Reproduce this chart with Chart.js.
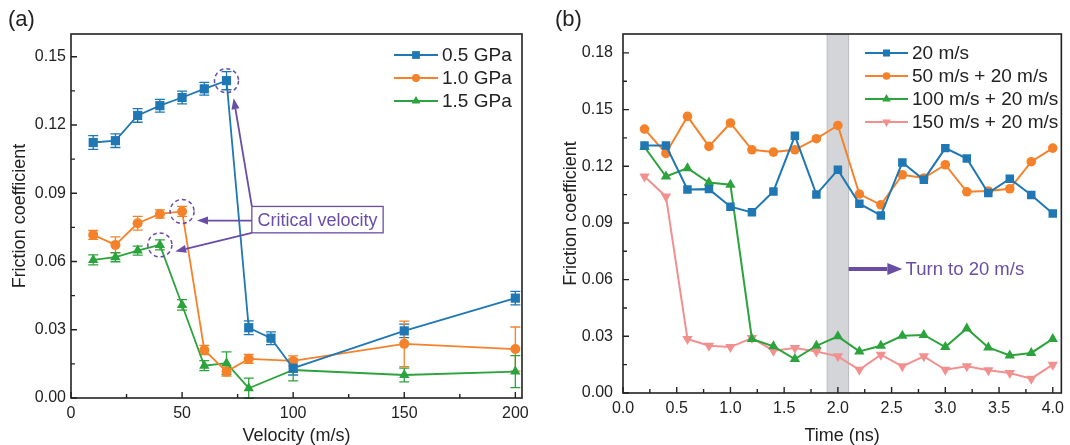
<!DOCTYPE html>
<html>
<head>
<meta charset="utf-8">
<script src="https://cdn.jsdelivr.net/npm/chart.js@4.4.1/dist/chart.umd.min.js"></script>
<style>
  html, body { margin: 0; padding: 0; background: #fff; }
  #wrap { position: relative; width: 1070px; height: 445px; }
  .panel { position: absolute; top: 0; width: 535px; height: 445px; }
</style>
</head>
<body>
<div id="wrap">
  <div class="panel" style="left:0"><canvas id="chartA" width="535" height="445"></canvas></div>
  <div class="panel" style="left:535px"><canvas id="chartB" width="535" height="445"></canvas></div>
</div>
<script>
// ---- panel (a): friction vs velocity, with error bars ----
const velocity05 = [10, 20, 30, 40, 50, 60, 70, 80, 90, 100, 150, 200];
const velocity = [10, 20, 30, 40, 50, 60, 70, 80, 100, 150, 200];
const cof05 = [0.1123, 0.1131, 0.1242, 0.1285, 0.1321, 0.1359, 0.1395, 0.0309, 0.0263, 0.0131, 0.0295, 0.0439];
const err05 = [0.003, 0.003, 0.003, 0.0028, 0.0028, 0.0028, 0.004, 0.003, 0.0028, 0.003, 0.003, 0.003];
const cof10 = [0.0717, 0.0673, 0.0768, 0.0809, 0.0820, 0.0211, 0.0116, 0.0172, 0.0163, 0.0238, 0.0215];
const err10 = [0.002, 0.0035, 0.003, 0.0018, 0.0022, 0.002, 0.002, 0.002, 0.0022, 0.010, 0.0097];
const cof15 = [0.0607, 0.0619, 0.0648, 0.0673, 0.0409, 0.0142, 0.0153, 0.0043, 0.0123, 0.0101, 0.0116];
const err15 = [0.0022, 0.002, 0.002, 0.0022, 0.0023, 0.0022, 0.005, 0.0044, 0.0048, 0.003, 0.007];
const xTicksA = [0, 50, 100, 150, 200];
const xMinorA = [25, 75, 125, 175];
const yTicksA = [0, 0.03, 0.06, 0.09, 0.12, 0.15];
const yMinorA = [0.015, 0.045, 0.075, 0.105, 0.135];

// ---- panel (b): friction vs time ----
const timeNs = [0.2, 0.4, 0.6, 0.8, 1.0, 1.2, 1.4, 1.6, 1.8, 2.0, 2.2, 2.4, 2.6, 2.8, 3.0, 3.2, 3.4, 3.6, 3.8, 4.0];
const run20 = [0.131, 0.131, 0.1077, 0.1079, 0.0986, 0.0956, 0.1067, 0.1361, 0.1051, 0.1181, 0.1002, 0.094, 0.122, 0.1129, 0.1296, 0.1241, 0.1058, 0.1134, 0.1048, 0.095];
const run50 = [0.1397, 0.1268, 0.1464, 0.1305, 0.1429, 0.1287, 0.1275, 0.1287, 0.1346, 0.1416, 0.1053, 0.0996, 0.1155, 0.1138, 0.1208, 0.1065, 0.1069, 0.1081, 0.1224, 0.1296];
const run100 = [0.1302, 0.1146, 0.119, 0.1114, 0.1102, 0.0286, 0.0247, 0.018, 0.025, 0.030, 0.022, 0.025, 0.0303, 0.0307, 0.0243, 0.0342, 0.0241, 0.0199, 0.0212, 0.0286];
const run150 = [0.1146, 0.104, 0.0286, 0.025, 0.0243, 0.0291, 0.0224, 0.0238, 0.022, 0.0194, 0.0123, 0.0203, 0.0141, 0.0194, 0.0123, 0.0141, 0.012, 0.0106, 0.0076, 0.015];
const xTicksB = [0, 0.5, 1.0, 1.5, 2.0, 2.5, 3.0, 3.5, 4.0];
const xMinorB = [0.25, 0.75, 1.25, 1.75, 2.25, 2.75, 3.25, 3.75];
const yTicksB = [0, 0.03, 0.06, 0.09, 0.12, 0.15, 0.18];
const yMinorB = [0.015, 0.045, 0.075, 0.105, 0.135, 0.165];
const switchBand = [1.9, 2.1];

const FONT = 'Arial, "Liberation Sans", sans-serif';
const INK = '#222';
const PURPLE = '#6a4ea6';
const BLUE = '#1f77b4';
const ORANGE = '#f5822a';
const GREEN = '#2ca33c';
const PINK = '#f29090';

const pts = (xs, ys) => xs.map((x, i) => ({ x, y: ys[i] }));

function series(label, xs, ys, color, style, radius, extra) {
  return Object.assign({
    label,
    data: pts(xs, ys),
    borderColor: color,
    backgroundColor: color,
    pointBackgroundColor: color,
    pointBorderColor: color,
    pointBorderWidth: 0,
    pointStyle: style,
    pointRadius: radius,
    borderWidth: 1.8,
    tension: 0,
  }, extra || {});
}

function arrow(ctx, x1, y1, x2, y2, lw, headLen, headW) {
  const ang = Math.atan2(y2 - y1, x2 - x1);
  const bx = x2 - Math.cos(ang) * headLen, by = y2 - Math.sin(ang) * headLen;
  ctx.lineWidth = lw;
  ctx.beginPath();
  ctx.moveTo(x1, y1);
  ctx.lineTo(bx, by);
  ctx.stroke();
  ctx.beginPath();
  ctx.moveTo(x2, y2);
  ctx.lineTo(bx + Math.sin(ang) * headW / 2, by - Math.cos(ang) * headW / 2);
  ctx.lineTo(bx - Math.sin(ang) * headW / 2, by + Math.cos(ang) * headW / 2);
  ctx.closePath();
  ctx.fill();
}

// error bars from dataset.errors
const errorBars = {
  id: "errorBars",
  beforeDatasetsDraw(chart) {
    const { ctx, scales: { x, y } } = chart;
    chart.data.datasets.forEach((ds) => {
      if (!ds.errors) return;
      ctx.save();
      ctx.strokeStyle = ds.borderColor;
      ctx.lineWidth = 1.3;
      ctx.beginPath();
      ds.data.forEach((p, j) => {
        const e = ds.errors[j];
        const px = x.getPixelForValue(p.x);
        const top = y.getPixelForValue(p.y + e);
        const bot = y.getPixelForValue(p.y - e);
        ctx.moveTo(px, top); ctx.lineTo(px, bot);
        ctx.moveTo(px - 5, top); ctx.lineTo(px + 5, top);
        ctx.moveTo(px - 5, bot); ctx.lineTo(px + 5, bot);
      });
      ctx.stroke();
      ctx.restore();
    });
  },
};

// box frame + inward ticks (major and minor)
const frameTicks = {
  id: "frameTicks",
  afterDraw(chart, args, opts) {
    const { ctx, chartArea: a, scales: { x, y } } = chart;
    ctx.save();
    ctx.strokeStyle = INK;
    ctx.lineWidth = 1.4;
    ctx.beginPath();
    opts.majorX.forEach((v) => { const p = x.getPixelForValue(v); ctx.moveTo(p, a.bottom); ctx.lineTo(p, a.bottom - 6); });
    opts.minorX.forEach((v) => { const p = x.getPixelForValue(v); ctx.moveTo(p, a.bottom); ctx.lineTo(p, a.bottom - 4); });
    opts.majorY.forEach((v) => { const p = y.getPixelForValue(v); ctx.moveTo(a.left, p); ctx.lineTo(a.left + 6, p); });
    opts.minorY.forEach((v) => { const p = y.getPixelForValue(v); ctx.moveTo(a.left, p); ctx.lineTo(a.left + 4, p); });
    ctx.stroke();
    ctx.lineWidth = 1.6;
    ctx.strokeRect(a.left, a.top, a.right - a.left, a.bottom - a.top);
    ctx.fillStyle = INK;
    ctx.font = "22px " + FONT;
    ctx.textBaseline = "middle";
    ctx.textAlign = "left";
    ctx.fillText(opts.tag, opts.tagX, 20);
    ctx.restore();
  },
};

// legend inside the plot
const insetLegend = {
  id: "insetLegend",
  afterDraw(chart, args, opts) {
    const { ctx } = chart;
    ctx.save();
    ctx.font = opts.size + "px " + FONT;
    ctx.textBaseline = "middle";
    ctx.textAlign = "left";
    chart.data.datasets.forEach((ds, i) => {
      const ly = opts.y + i * opts.step;
      ctx.strokeStyle = ds.borderColor;
      ctx.lineWidth = ds.borderWidth;
      ctx.beginPath();
      ctx.moveTo(opts.x, ly);
      ctx.lineTo(opts.x + opts.len, ly);
      ctx.stroke();
      ctx.fillStyle = ds.pointBackgroundColor;
      Chart.helpers.drawPoint(ctx, {
        pointStyle: ds.pointStyle,
        rotation: ds.pointRotation || 0,
        radius: ds.pointRadius - 1,
        borderWidth: 0,
      }, opts.x + opts.len / 2, ly);
      ctx.fillStyle = INK;
      ctx.fillText(ds.label, opts.x + opts.len + 4, ly + 1);
    });
    ctx.restore();
  },
};

// (a) critical velocity callouts
const criticalNote = {
  id: "criticalNote",
  afterDraw(chart) {
    const { ctx, scales: { x, y } } = chart;
    const px = (v) => x.getPixelForValue(v), py = (v) => y.getPixelForValue(v);
    ctx.save();
    ctx.strokeStyle = PURPLE;
    ctx.fillStyle = PURPLE;
    // dashed circles around the last point before the drop
    ctx.setLineDash([4, 3]);
    ctx.lineWidth = 1.5;
    [[70, cof05[6]], [50, cof10[4]], [40, cof15[3]]].forEach(([vx, vy]) => {
      ctx.beginPath();
      ctx.arc(px(vx), py(vy), 12, 0, Math.PI * 2);
      ctx.stroke();
    });
    ctx.setLineDash([]);
    // label box
    const bl = px(81.4), br = px(140.5), bt = py(0.0842), bb = py(0.0726);
    ctx.lineWidth = 1.3;
    ctx.strokeRect(bl, bt, br - bl, bb - bt);
    ctx.font = "18px " + FONT;
    ctx.textAlign = "center";
    ctx.textBaseline = "middle";
    ctx.fillText("Critical velocity", (bl + br) / 2, (bt + bb) / 2 + 1);
    // arrows
    arrow(ctx, bl, py(0.078), px(56.7), py(0.078), 1.8, 11, 8);
    arrow(ctx, bl, bb, px(46.9), py(0.0644), 1.8, 11, 8);
    arrow(ctx, bl, bt, px(73.2), py(0.1318), 1.8, 11, 8);
    ctx.restore();
  },
};

// (b) grey band marking the speed switch
const switchMark = {
  id: "switchMark",
  beforeDatasetsDraw(chart) {
    const { ctx, chartArea: a, scales: { x } } = chart;
    const l = x.getPixelForValue(switchBand[0]), r = x.getPixelForValue(switchBand[1]);
    ctx.save();
    ctx.fillStyle = "#d3d5d8";
    ctx.fillRect(l, a.top, r - l, a.bottom - a.top);
    ctx.strokeStyle = "#b9bcc0";
    ctx.lineWidth = 1;
    ctx.beginPath();
    ctx.moveTo(l, a.top); ctx.lineTo(l, a.bottom);
    ctx.moveTo(r, a.top); ctx.lineTo(r, a.bottom);
    ctx.stroke();
    ctx.restore();
  },
  afterDraw(chart) {
    const { ctx, scales: { x, y } } = chart;
    const ay = y.getPixelForValue(0.0656);
    ctx.save();
    ctx.strokeStyle = PURPLE;
    ctx.fillStyle = PURPLE;
    arrow(ctx, x.getPixelForValue(2.1), ay, x.getPixelForValue(2.6), ay, 4, 15, 12);
    ctx.font = "18.5px " + FONT;
    ctx.textAlign = "left";
    ctx.textBaseline = "middle";
    ctx.fillText("Turn to 20 m/s", x.getPixelForValue(2.63), ay + 1);
    ctx.restore();
  },
};

function axis(min, max, ticks, fmt, title, pad, titlePad) {
  return {
    type: "linear",
    min, max,
    afterBuildTicks: (s) => { s.ticks = ticks.map((v) => ({ value: v })); },
    grid: { display: false, drawTicks: false },
    border: { display: false },
    ticks: {
      color: INK, padding: pad, autoSkip: false, maxRotation: 0,
      font: { family: FONT, size: 16 },
      callback: fmt,
    },
    title: {
      display: true, text: title, color: INK,
      font: { family: FONT, size: 18, lineHeight: 1 },
      padding: titlePad,
    },
  };
}

const common = (padding, xAxis, yAxis, plugins) => ({
  responsive: false,
  animation: false,
  devicePixelRatio: 1,
  layout: { padding },
  plugins: Object.assign({ legend: { display: false }, tooltip: { enabled: false } }, plugins),
  scales: { x: xAxis, y: yAxis },
});

// ---------- chart (a) ----------
const xA = axis(0, 203, xTicksA, (v) => String(v), "Velocity (m/s)", 6, { top: 0, bottom: 0 });
xA.afterFit = (s) => { s.height = 47; };
const yA = axis(0, 0.16, yTicksA, (v) => v.toFixed(2), "Friction coefficient", 5, { top: 11, bottom: 0 });
yA.afterFit = (s) => { s.width = 71; };

new Chart(document.getElementById("chartA"), {
  type: "line",
  data: {
    datasets: [
      series("0.5 GPa", velocity05, cof05, BLUE, "rect", 6.5, { errors: err05 }),
      series("1.0 GPa", velocity, cof10, ORANGE, "circle", 5, { errors: err10 }),
      series("1.5 GPa", velocity, cof15, GREEN, "triangle", 6, { errors: err15 }),
    ],
  },
  options: common({ left: 0, right: 13, top: 34, bottom: 0 }, xA, yA, {
    frameTicks: { majorX: xTicksA, minorX: xMinorA, majorY: yTicksA, minorY: yMinorA, tag: "(a)", tagX: 8 },
    insetLegend: { x: 394, y: 55, step: 23, len: 44, size: 19 },
  }),
  plugins: [errorBars, criticalNote, frameTicks, insetLegend],
});

// ---------- chart (b) ----------
const xB = axis(0, 4.08, xTicksB, (v) => v.toFixed(1), "Time (ns)", 6, { top: 0, bottom: 0 });
xB.afterFit = (s) => { s.height = 52; };
const yB = axis(0, 0.19, yTicksB, (v) => v.toFixed(2), "Friction coefficient", 10, { top: 27, bottom: 0 });
yB.afterFit = (s) => { s.width = 88; };

new Chart(document.getElementById("chartB"), {
  type: "line",
  data: {
    datasets: [
      series("20 m/s", timeNs, run20, BLUE, "rect", 6, { borderWidth: 2 }),
      series("50 m/s + 20 m/s", timeNs, run50, ORANGE, "circle", 4.8, { borderWidth: 2 }),
      series("100 m/s + 20 m/s", timeNs, run100, GREEN, "triangle", 6, { borderWidth: 2 }),
      series("150 m/s + 20 m/s", timeNs, run150, PINK, "triangle", 6, { pointRotation: 180, borderWidth: 2 }),
    ],
  },
  options: common({ left: 0, right: 2, top: 34, bottom: 0 }, xB, yB, {
    frameTicks: { majorX: xTicksB, minorX: xMinorB, majorY: yTicksB, minorY: yMinorB, tag: "(b)", tagX: 20 },
    insetLegend: { x: 330, y: 53, step: 23, len: 43, size: 19 },
  }),
  plugins: [switchMark, frameTicks, insetLegend],
});
</script>
</body>
</html>
